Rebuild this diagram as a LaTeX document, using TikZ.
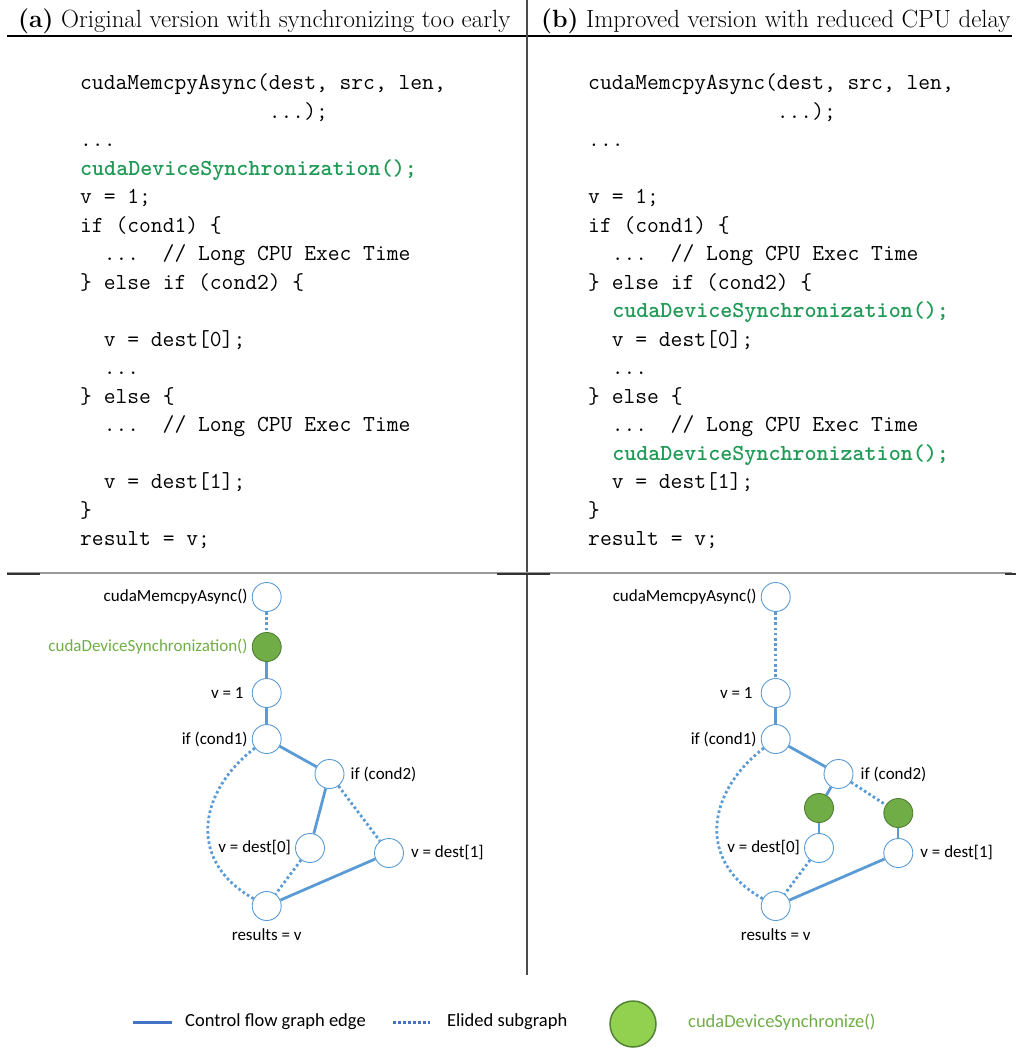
\documentclass[tikz,border=0pt]{standalone}
\usepackage{fontspec}
\newfontfamily\calfont{Carlito}
\definecolor{cfblue}{HTML}{5B9BD5}
\definecolor{legblue}{HTML}{4472C4}
\definecolor{syncfill}{HTML}{70AD47}
\definecolor{syncdraw}{HTML}{507E32}
\definecolor{legfill}{HTML}{92D050}
\definecolor{legdraw}{HTML}{548235}
\definecolor{synctext}{HTML}{70AD47}
\definecolor{codegreen}{HTML}{1F9A55}
\newcommand\codefont{\fontsize{22.9}{28.5}\selectfont\ttfamily\frenchspacing}
\newcommand\hdfont{\fontsize{24.9}{30}\selectfont\rmfamily}
\newcommand\lblfont{\calfont\fontsize{17}{20}\selectfont}
\newcommand\legfont{\calfont\fontsize{18.5}{22}\selectfont}
\begin{document}
\begin{tikzpicture}[x=1pt,y=-1pt,
  code/.style={anchor=base west, inner sep=0pt, font=\codefont},
  hot/.style={anchor=base west, inner sep=0pt, font=\codefont\bfseries, text=codegreen},
  head/.style={anchor=base west, inner sep=0pt, font=\hdfont},
  cnode/.style={circle, draw=cfblue, fill=white, line width=0.9pt, minimum size=29pt, inner sep=0pt},
  snode/.style={circle, draw=syncdraw, fill=syncfill, line width=0.9pt, minimum size=29pt, inner sep=0pt},
  cfe/.style={draw=cfblue, line width=2.8pt},
  thincfe/.style={draw=cfblue, line width=2pt},
  eli/.style={draw=cfblue, line width=2.8pt, dash pattern=on 2.6pt off 2.6pt},
  lbl/.style={font=\lblfont, inner sep=0pt},
  leg/.style={font=\legfont, inner sep=0pt, anchor=west},
]
\useasboundingbox (0,0) rectangle (1016,1055);

% ---------- frame rules ----------
\draw[black, line width=1.3pt] (7,36) -- (1012,36);
\draw[black!70, line width=1.2pt] (527,0) -- (527,975);
\draw[black!40, line width=1.2pt] (7,573) -- (1012,573);
\draw[black!80, line width=1.5pt] (7,574) -- (40,574);
\draw[black!80, line width=1.5pt] (497,574) -- (550,574);
\draw[black!80, line width=1.5pt] (1005,574) -- (1016,574);

% ---------- headings ----------
\node[head] (ha) at (18,27) {\textbf{(a)} Original version with synchronizing too early};
\node[head] (hb) at (541,27) {\textbf{(b)} Improved version with reduced CPU delay};

% ---------- code, left ----------
\node[code] (a0)  at (80,89.5)  {cudaMemcpyAsync(dest, src, len,};
\node[code] (a1)  at (80,118)   {\ \ \ \ \ \ \ \ \ \ \ \ \ \ \ \ ...);};
\node[code] (a2)  at (80,146.5) {...};
\node[hot]  (a3)  at (80,175)   {cudaDeviceSynchronization();};
\node[code] (a4)  at (80,203.5) {v = 1;};
\node[code] (a5)  at (80,232)   {if (cond1) \{};
\node[code] (a6)  at (80,260.5) {\ \ ...\ \ // Long CPU Exec Time};
\node[code] (a7)  at (80,289)   {\} else if (cond2) \{};
\node[code] (a9)  at (80,346)   {\ \ v = dest[0];};
\node[code] (a10) at (80,374.5) {\ \ ...};
\node[code] (a11) at (80,403)   {\} else \{};
\node[code] (a12) at (80,431.5) {\ \ ...\ \ // Long CPU Exec Time};
\node[code] (a14) at (80,488.5) {\ \ v = dest[1];};
\node[code] (a15) at (80,517)   {\}};
\node[code] (a16) at (80,545.5) {result = v;};

% ---------- code, right ----------
\node[code] (b0)  at (588,89.5)  {cudaMemcpyAsync(dest, src, len,};
\node[code] (b1)  at (588,118)   {\ \ \ \ \ \ \ \ \ \ \ \ \ \ \ \ ...);};
\node[code] (b2)  at (588,146.5) {...};
\node[code] (b4)  at (588,203.5) {v = 1;};
\node[code] (b5)  at (588,232)   {if (cond1) \{};
\node[code] (b6)  at (588,260.5) {\ \ ...\ \ // Long CPU Exec Time};
\node[code] (b7)  at (588,289)   {\} else if (cond2) \{};
\node[hot]  (b8)  at (588,317.5) {\ \ cudaDeviceSynchronization();};
\node[code] (b9)  at (588,346)   {\ \ v = dest[0];};
\node[code] (b10) at (588,374.5) {\ \ ...};
\node[code] (b11) at (588,403)   {\} else \{};
\node[code] (b12) at (588,431.5) {\ \ ...\ \ // Long CPU Exec Time};
\node[hot]  (b13) at (588,460)   {\ \ cudaDeviceSynchronization();};
\node[code] (b14) at (588,488.5) {\ \ v = dest[1];};
\node[code] (b15) at (588,517)   {\}};
\node[code] (b16) at (588,545.5) {result = v;};

% ---------- graph, left ----------
\node[cnode] (m1) at (266.7,597) {};
\node[snode] (s1) at (266.7,647) {};
\node[cnode] (v1) at (266.7,693) {};
\node[cnode] (c1) at (266.7,739) {};
\node[cnode] (c2) at (329.5,774) {};
\node[cnode] (d0) at (310,848) {};
\node[cnode] (d1) at (389,853) {};
\node[cnode] (r1) at (266.7,906) {};

\node[lbl, anchor=east] (lm1) at ([xshift=-4pt]m1.west) {cudaMemcpyAsync()};
\node[lbl, anchor=east, text=synctext] (ls1) at ([xshift=-4pt]s1.west) {cudaDeviceSynchronization()};
\node[lbl, anchor=east] (lv1) at ([xshift=-8pt]v1.west) {v = 1};
\node[lbl, anchor=east] (lc1) at ([xshift=-4pt]c1.west) {if (cond1)};
\node[lbl, anchor=west] (lc2) at ([xshift=6pt]c2.east) {if (cond2)};
\node[lbl, anchor=east] (ld0) at ([xshift=-4pt]d0.west) {v = dest[0]};
\node[lbl, anchor=west] (ld1) at ([xshift=7pt]d1.east) {v = dest[1]};
\node[lbl, anchor=base] (lr1) at ([yshift=-20pt]r1.south) {results = v};

\draw[eli] (m1) -- (s1);
\draw[cfe] (s1) -- (v1);
\draw[cfe] (v1) -- (c1);
\draw[cfe] (c1) -- (c2);
\draw[cfe] (c2) -- (d0);
\draw[eli] (c2) -- (d1);
\draw[eli] (d0) -- (r1);
\draw[cfe] (d1) -- (r1);
\draw[eli] (c1) .. controls (200,790) and (185,860) .. (r1);

% ---------- graph, right ----------
\node[cnode] (m2) at (775.7,597) {};
\node[cnode] (v2) at (775.7,693) {};
\node[cnode] (c3) at (775.7,739) {};
\node[cnode] (c4) at (838.5,774) {};
\node[snode] (g1) at (819,808) {};
\node[snode] (g2) at (898.3,813) {};
\node[cnode] (e0) at (819,848) {};
\node[cnode] (e1) at (898.3,853) {};
\node[cnode] (r2) at (775.7,906) {};

\node[lbl, anchor=east] (lm2) at ([xshift=-4pt]m2.west) {cudaMemcpyAsync()};
\node[lbl, anchor=east] (lv2) at ([xshift=-8pt]v2.west) {v = 1};
\node[lbl, anchor=east] (lc3) at ([xshift=-4pt]c3.west) {if (cond1)};
\node[lbl, anchor=west] (lc4) at ([xshift=7pt]c4.east) {if (cond2)};
\node[lbl, anchor=east] (le0) at ([xshift=-4pt]e0.west) {v = dest[0]};
\node[lbl, anchor=west] (le1) at ([xshift=7pt]e1.east) {v = dest[1]};
\node[lbl, anchor=base] (lr2) at ([yshift=-20pt]r2.south) {results = v};

\draw[eli] (m2) -- (v2);
\draw[cfe] (v2) -- (c3);
\draw[cfe] (c3) -- (c4);
\draw[cfe] (c4) -- (g1);
\draw[cfe] (g1) -- (e0);
\draw[eli] (c4) -- (g2);
\draw[thincfe] (g2) -- (e1);
\draw[eli] (e0) -- (r2);
\draw[cfe] (e1) -- (r2);
\draw[eli] (c3) .. controls (709,790) and (694,860) .. (r2);

% ---------- legend ----------
\coordinate (ka) at (133,1022);
\coordinate (kb) at (172,1022);
\draw[draw=legblue, line width=3pt] (ka) -- (kb);
\node[leg] (kt1) at (185,1022) {Control flow graph edge};
\coordinate (kc) at (393,1022);
\coordinate (kd) at (430,1022);
\draw[draw=legblue, line width=3pt, dash pattern=on 2.5pt off 2.5pt] (kc) -- (kd);
\node[leg] (kt2) at (447,1022) {Elided subgraph};
\node[circle, draw=legdraw, fill=legfill, line width=1.5pt, minimum size=46pt, inner sep=0pt] (kg) at (633,1024) {};
\node[leg, text=synctext] (kt3) at (688,1022) {cudaDeviceSynchronize()};
\end{tikzpicture}
\end{document}
